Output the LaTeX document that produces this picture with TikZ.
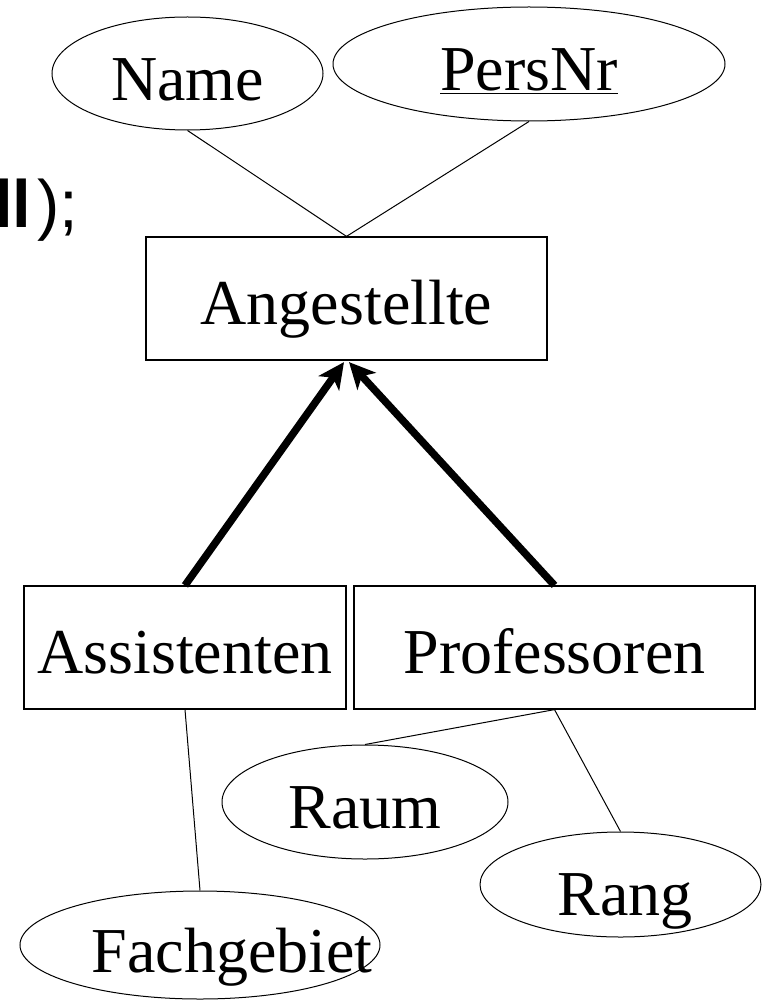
\documentclass[tikz,border=0pt]{standalone}
\usepackage{fontspec}
\setmainfont{Liberation Serif}
\setsansfont{Liberation Sans}
\usetikzlibrary{shapes.geometric,arrows.meta}

\begin{document}
\begin{tikzpicture}[x=1pt,y=-1pt,
  entity/.style={draw, line width=1.2pt, rectangle, inner sep=0pt,
    text height=51pt, text depth=0pt, font=\fontsize{64}{70}\selectfont},
  attr/.style={draw, line width=1pt, ellipse, inner sep=0pt,
    text depth=0pt, font=\fontsize{64}{70}\selectfont},
  link/.style={line width=1pt},
  isa/.style={line width=7.5pt, -{Stealth[length=26pt,width=25pt,inset=7pt]}}]
\useasboundingbox (0,0) rectangle (762,1000);

% trailing piece of the slide text
\node[anchor=base west, inner sep=0pt, font=\sffamily\fontsize{67}{72}\selectfont]
  (tail) at (-6,228) {\textbf{ll}\kern6pt);};

% entity sets
\node[entity, minimum width=401pt, minimum height=123pt] (ang)  at (346.5,298.5) {Angestellte};
\node[entity, minimum width=322pt, minimum height=123pt] (ass)  at (185,647.5)   {Assistenten};
\node[entity, minimum width=401pt, minimum height=123pt] (prof) at (554.5,647.5) {Professoren};

% attributes
\node[attr, minimum width=271pt, minimum height=113pt, text height=54pt] (name) at (187.5,73.5) {\makebox[0pt]{Name}};
\node[attr, minimum width=392pt, minimum height=114pt, text height=54pt] (pers) at (529,64) {\makebox[0pt]{\underline{PersNr}}};
\node[attr, minimum width=286pt, minimum height=114pt, text height=52pt] (raum) at (365,802) {\makebox[0pt]{Raum}};
\node[attr, minimum width=281pt, minimum height=105pt, text height=61pt] (rang) at (620.5,884.5) {\makebox[0pt]{\hspace*{9pt}Rang}};
\node[attr, minimum width=360pt, minimum height=108pt, text height=54pt] (fach) at (200,945) {\makebox[0pt]{\hspace*{64pt}Fachgebiet}};

% attribute links
\draw[link] (name.south) -- (ang.north);
\draw[link] (pers.south) -- (ang.north);
\draw[link] (ass.south)  -- (fach.north);
\draw[link] (prof.south) -- (raum.north);
\draw[link] (prof.south) -- (rang.north);

% generalisation (is-a) arrows
\draw[isa] (ass.north)  -- ([xshift=-2.5pt,yshift=-1.5pt]ang.south);
\draw[isa] (prof.north) -- ([xshift=2.5pt,yshift=-1.5pt]ang.south);
\end{tikzpicture}
\end{document}
